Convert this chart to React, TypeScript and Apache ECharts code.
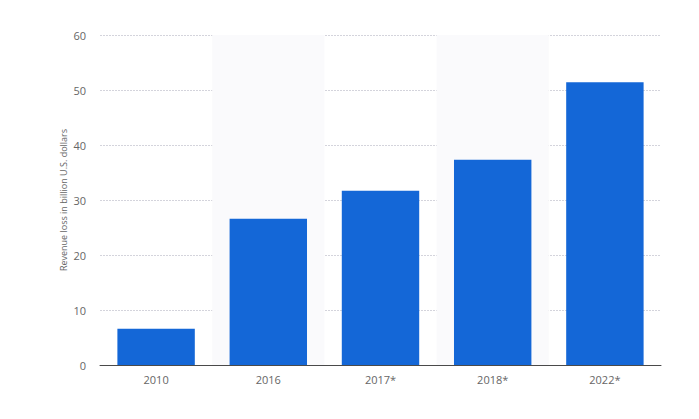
import React, { useEffect, useRef } from "react";
import * as echarts from "echarts";

const categories = ["2010", "2016", "2017*", "2018*", "2022*"];
const revenueLoss = [6.6, 26.6, 31.7, 37.3, 51.4];
const yTicks = { min: 0, max: 60, interval: 10 };
const yAxisTitle = "Revenue loss in billion U.S. dollars";

export default function App() {
  const ref = useRef<HTMLDivElement>(null);
  useEffect(() => {
    if (!ref.current) return;
    const chart = echarts.init(ref.current, undefined, { renderer: "svg" });
    chart.setOption({
      animation: false,
      backgroundColor: "#ffffff",
      textStyle: { fontFamily: "Open Sans, Noto Sans, sans-serif" },
      grid: { left: 100, right: 38, top: 35, bottom: 54 },
      graphic: [
        {
          type: "text",
          x: 63,
          y: 200,
          rotation: Math.PI / 2,
          style: {
            text: yAxisTitle,
            fill: "#666666",
            fontSize: 9,
            fontFamily: "Open Sans, Noto Sans, sans-serif",
            align: "center",
            verticalAlign: "middle",
          },
        },
      ],
      xAxis: {
        type: "category",
        data: categories,
        axisLine: { lineStyle: { color: "#4a4a4a", width: 1 } },
        axisTick: { show: false },
        axisLabel: { color: "#666666", fontSize: 11, margin: 9 },
        splitArea: {
          show: true,
          areaStyle: { color: ["rgba(255,255,255,0)", "#fafafc"] },
        },
      },
      yAxis: {
        type: "value",
        min: yTicks.min,
        max: yTicks.max,
        interval: yTicks.interval,
        axisLine: { show: false },
        axisTick: { show: false },
        axisLabel: { color: "#666666", fontSize: 11, margin: 14 },
        splitLine: { lineStyle: { color: "#d4d4dc", type: [2, 1], width: 1 } },
      },
      series: [
        {
          type: "bar",
          data: revenueLoss,
          barWidth: "69%",
          itemStyle: { color: "#1467d7" },
          z: 3,
        },
      ],
    });
    return () => chart.dispose();
  }, []);
  return <div ref={ref} style={{ width: 699, height: 419, position: "absolute", left: 0, top: 0 }} />;
}
